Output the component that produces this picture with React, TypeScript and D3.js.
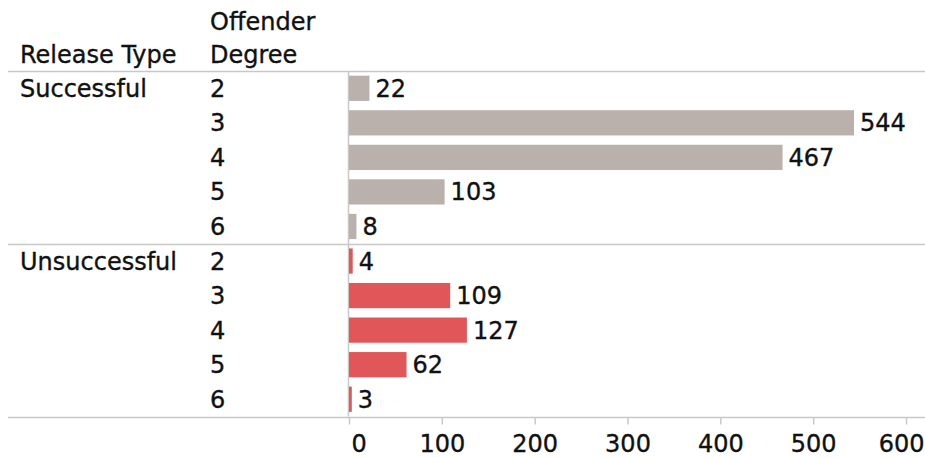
import React, { useEffect, useRef } from 'react';
import * as d3 from 'd3';

const releaseTypes = ['Successful', 'Unsuccessful'];
const degrees = ['2', '3', '4', '5', '6'];
const successfulCounts = [22, 544, 467, 103, 8];
const unsuccessfulCounts = [4, 109, 127, 62, 3];
const xTicks = [0, 100, 200, 300, 400, 500, 600];

const colors: Record<string, string> = { Successful: '#bab0ac', Unsuccessful: '#e15759' };
const FONT = '"DejaVu Sans", Verdana, sans-serif';
const FS = '24px';

const App = () => {
  const svgRef = useRef<SVGSVGElement>(null);

  useEffect(() => {
    const svg = d3.select(svgRef.current);
    svg.selectAll('*').remove();

    const W = 925, H = 458;
    svg.attr('width', W).attr('height', H);

    const rows = releaseTypes.flatMap((rt, gi) => {
      const vals = gi === 0 ? successfulCounts : unsuccessfulCounts;
      return degrees.map((d, i) => ({ type: rt, degree: d, value: vals[i], key: `${rt}-${d}`, first: i === 0 }));
    });

    const top = 71, bottom = 416.5;
    const x = d3.scaleLinear().domain([0, 600]).range([349, 906]);
    const y = d3.scaleBand()
      .domain(rows.map(r => r.key))
      .range([top, bottom])
      .paddingInner(0.27)
      .paddingOuter(0.135);
    const step = y.step();

    const g = svg.append('g');

    const textStyle = (sel: any) => sel
      .style('font-family', FONT)
      .style('font-size', FS)
      .attr('fill', '#111')
      .attr('stroke', '#111')
      .attr('stroke-width', 0.35);

    // header
    const hdr = g.append('g').call(textStyle);
    hdr.append('text').attr('x', 20).attr('y', 63).text('Release Type');
    hdr.append('text').attr('x', 210).attr('y', 30).text('Offender');
    hdr.append('text').attr('x', 210).attr('y', 63).text('Degree');

    // separators
    const lineColor = '#c8c8c8';
    const seps = [top, top + step * 5, bottom];
    g.selectAll('line.sep')
      .data(seps)
      .enter()
      .append('line')
      .attr('class', 'sep')
      .attr('x1', 8)
      .attr('x2', W)
      .attr('y1', d => Math.round(d) + 0.5)
      .attr('y2', d => Math.round(d) + 0.5)
      .attr('stroke', lineColor)
      .attr('stroke-width', 1.5);

    // zero line
    g.append('line')
      .attr('x1', x(0) - 0.5)
      .attr('x2', x(0) - 0.5)
      .attr('y1', top)
      .attr('y2', bottom)
      .attr('stroke', lineColor)
      .attr('stroke-width', 1.5);

    // bars
    g.selectAll('rect.bar')
      .data(rows)
      .enter()
      .append('rect')
      .attr('class', 'bar')
      .attr('x', x(0))
      .attr('y', d => y(d.key)!)
      .attr('width', d => Math.max(x(d.value) - x(0), 2))
      .attr('height', y.bandwidth())
      .attr('fill', d => colors[d.type]);

    // value labels
    const txt = g.append('g').call(textStyle);
    txt.selectAll('text.val')
      .data(rows)
      .enter()
      .append('text')
      .attr('x', d => Math.max(x(d.value), x(0) + 2) + 6)
      .attr('y', d => y(d.key)! + y.bandwidth() / 2 + 8.5)
      .text(d => d.value);

    // row headers
    txt.selectAll('text.deg')
      .data(rows)
      .enter()
      .append('text')
      .attr('x', 210)
      .attr('y', d => y(d.key)! + y.bandwidth() / 2 + 8.5)
      .text(d => d.degree);
    txt.selectAll('text.type')
      .data(rows.filter(r => r.first))
      .enter()
      .append('text')
      .attr('x', 20)
      .attr('y', d => y(d.key)! + y.bandwidth() / 2 + 8.5)
      .text(d => d.type);

    // x axis
    const axis = g.append('g')
      .attr('transform', `translate(0,${Math.round(bottom) + 0.5})`)
      .call(d3.axisBottom(x).tickValues(xTicks).tickSize(7).tickPadding(10).tickFormat(d3.format('d')));
    axis.select('.domain').remove();
    axis.selectAll('.tick line').attr('stroke', lineColor).attr('stroke-width', 1.5);
    axis.selectAll('.tick text')
      .style('font-family', FONT)
      .style('font-size', FS)
      .attr('fill', '#111')
      .attr('stroke', '#111')
      .attr('stroke-width', 0.35);
    axis.selectAll<SVGTextElement, number>('.tick text')
      .filter(d => d === 0)
      .attr('text-anchor', 'start')
      .attr('dx', 2);
    axis.selectAll<SVGTextElement, number>('.tick text')
      .filter(d => d === 600)
      .attr('text-anchor', 'end')
      .attr('dx', 18);
  }, []);

  return <svg ref={svgRef} style={{ position: 'absolute', left: 0, top: 0 }} />;
};

export default App;
